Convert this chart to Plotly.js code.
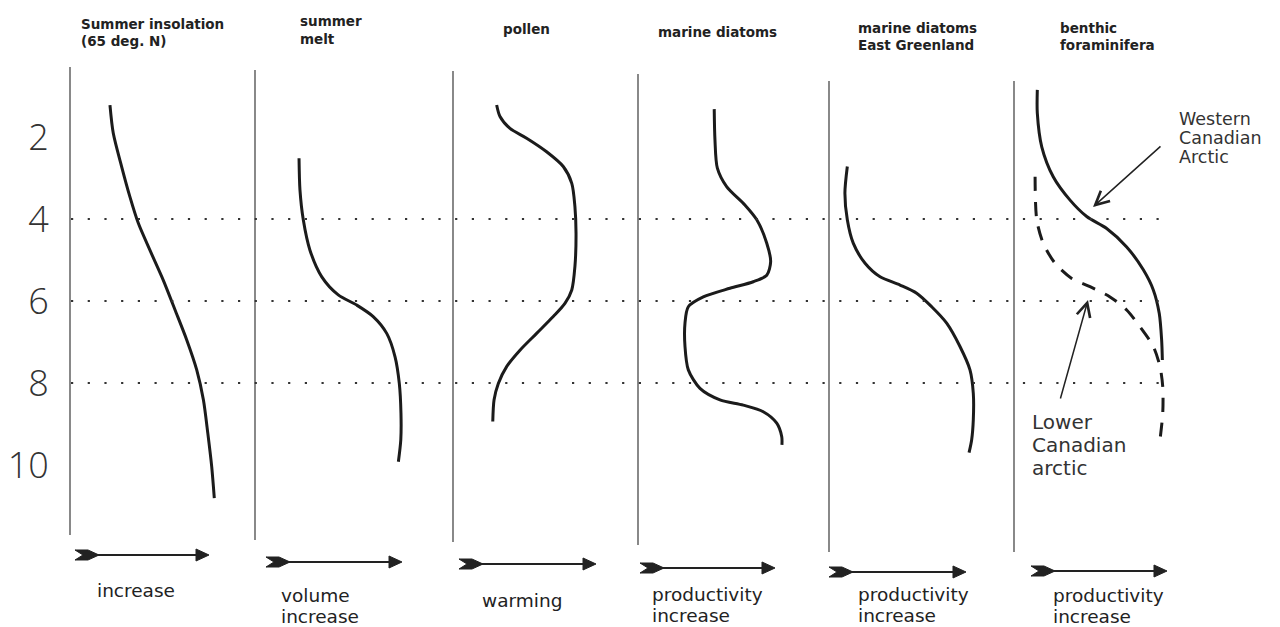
<!DOCTYPE html>
<html><head><meta charset="utf-8">
<script src="https://cdn.plot.ly/plotly-3.0.1.min.js"></script>
<style>html,body{margin:0;padding:0;background:#fff;overflow:hidden}#chart{width:1280px;height:627px}</style>
</head><body><div id="chart"></div>
<script>
// ---------- data ----------
const panelTitles = [["Summer insolation","(65 deg. N)"],["summer","melt"],["pollen"],["marine diatoms"],["marine diatoms","East Greenland"],["benthic","foraminifera"]];
const axisLabels = [["increase"],["volume","increase"],["warming"],["productivity","increase"],["productivity","increase"],["productivity","increase"]];
const ageTicks = [2,4,6,8,10];
const refAges = [4,6,8];

// relative index (0-10, increasing to the right) vs age (ka BP)
const insolationIdx = [2.16,2.34,2.79,3.24,3.69,4.32,5.04,5.68,6.31,6.85,7.21,7.45,7.66,7.80];
const insolationAge = [1.22,1.91,2.72,3.46,4.10,4.76,5.49,6.22,6.95,7.68,8.41,9.23,10.04,10.81];

const meltIdx = [2.38,2.43,2.61,2.97,3.61,4.50,5.50,6.39,7.12,7.57,7.80,7.89,7.88,7.75];
const meltAge = [2.52,3.29,4.02,4.76,5.41,5.85,6.10,6.38,6.79,7.36,8.01,8.74,9.39,9.92];

const pollenIdx = [2.36,2.54,3.08,3.98,5.06,5.96,6.42,6.59,6.65,6.59,6.42,6.05,5.42,4.52,3.62,2.90,2.45,2.22,2.15];
const pollenAge = [1.22,1.50,1.79,2.03,2.36,2.72,3.13,3.70,4.35,5.16,5.73,6.06,6.38,6.79,7.20,7.60,8.01,8.41,8.94];

const diatomIdx = [4.12,4.16,4.29,4.79,5.78,6.42,6.96,7.17,6.96,6.23,4.97,3.53,2.72,2.54,2.54,2.72,3.35,4.43,5.69,6.77,7.50,7.77,7.78];
const diatomAge = [1.32,2.07,2.76,3.21,3.66,4.02,4.59,5.04,5.37,5.53,5.69,5.90,6.14,6.54,7.11,7.68,8.13,8.41,8.54,8.70,8.98,9.31,9.51];

const greenlandIdx = [0.99,0.86,0.99,1.31,1.95,2.76,3.84,4.74,5.55,6.36,7.08,7.62,7.80,7.80,7.71,7.57];
const greenlandAge = [2.72,3.37,4.02,4.59,5.08,5.41,5.61,5.81,6.14,6.54,7.11,7.68,8.25,8.90,9.39,9.70];

const westernIdx = [1.26,1.26,1.50,2.12,3.03,3.93,5.01,6.09,6.99,7.53,7.85,7.98,8.02];
const westernAge = [0.85,1.42,2.24,2.97,3.54,3.94,4.23,4.68,5.24,5.73,6.30,6.95,7.44];

const lowerIdx = [1.14,1.23,1.58,2.22,3.12,4.11,5.19,6.09,6.81,7.53,7.89,8.04,8.04,7.89];
const lowerAge = [2.97,4.02,4.59,5.08,5.45,5.65,5.90,6.22,6.63,7.11,7.60,8.09,8.74,9.39];

// ---------- layout geometry (pixels) ----------
const W = 1280, H = 627;
const px = x => x / W;
const py = y => 1 - y / H;
const panelLeft = [70,255,453,638,829,1014];
const panelWidth = 185;
const lineTop = [67,70,71,74,81,81];
const lineBottom = [535,540,542,545,552,552];
const titlePos = [[79,24,17],[298,21,18],[501,29,18],[656,32,18],[856,27.5,17.5],[1058,27.5,17.5]];
const labelPos = [[95,590,21],[279,595,21],[480,600,21],[650,594.5,21],[856,594.5,21],[1051,595,21]];
const arrowPos = [[75,209,555],[266,402,562],[459,596,564],[640,775,568],[829,966,572],[1031,1167,571]];

const curveLine = {color:'#1b1b1b', width:3, shape:'spline', smoothing:0.8};
const series = [
  {x:insolationIdx, y:insolationAge, p:1},
  {x:meltIdx, y:meltAge, p:2},
  {x:pollenIdx, y:pollenAge, p:3},
  {x:diatomIdx, y:diatomAge, p:4},
  {x:greenlandIdx, y:greenlandAge, p:5},
  {x:westernIdx, y:westernAge, p:6},
  {x:lowerIdx, y:lowerAge, p:6, dash:'14px,11px'}
];
const traces = series.map(s => ({
  type:'scatter', mode:'lines', x:s.x, y:s.y,
  xaxis: s.p === 1 ? 'x' : 'x' + s.p, yaxis:'y',
  line: Object.assign({}, curveLine, s.dash ? {dash:s.dash} : {}),
  hoverinfo:'skip', showlegend:false
}));

const layout = {
  width:W, height:H, margin:{l:0,r:0,t:0,b:0},
  paper_bgcolor:'#fff', plot_bgcolor:'rgba(0,0,0,0)', showlegend:false,
  yaxis:{
    range:[4 + (H - 219)/41, 4 - 219/41], domain:[0,1],
    tickvals:ageTicks, ticktext:ageTicks.map(String),
    showgrid:false, zeroline:false, showline:false,
    ticks:'outside', ticklen:14, tickcolor:'rgba(0,0,0,0)',
    anchor:'free', position:px(70),
    tickfont:{family:'"Open Sans", "DejaVu Sans", sans-serif', size:36, color:'#333', weight:300}
  },
  shapes:[], annotations:[]
};
panelLeft.forEach((L,i) => {
  const key = i === 0 ? 'xaxis' : 'xaxis' + (i+1);
  layout[key] = {domain:[px(L), px(L+panelWidth)], range:[0,10], visible:false, anchor:'y', fixedrange:true};
  layout.shapes.push({type:'line', xref:'paper', yref:'paper', x0:px(L), x1:px(L), y0:py(lineTop[i]), y1:py(lineBottom[i]), line:{color:'#3a3a3a', width:1.2}});
});
refAges.forEach(a => layout.shapes.push({type:'line', xref:'paper', yref:'y', x0:px(71), x1:px(1172), y0:a, y1:a, line:{color:'#333', width:2.2, dash:'2.2px,14.5px'}}));

arrowPos.forEach(([x0,x1,y]) => {
  const P = (x,yy) => px(x).toFixed(5) + ',' + py(yy).toFixed(5);
  layout.shapes.push({type:'path', xref:'paper', yref:'paper', fillcolor:'#222', line:{color:'#222', width:1},
    path:'M'+P(x0,y-5)+' L'+P(x0+13,y-5)+' L'+P(x0+24,y)+' L'+P(x0+13,y+5)+' L'+P(x0,y+5)+' L'+P(x0+8,y)+' Z'});
  layout.shapes.push({type:'line', xref:'paper', yref:'paper', x0:px(x0+20), x1:px(x1-10), y0:py(y), y1:py(y), line:{color:'#222', width:2}});
  layout.shapes.push({type:'path', xref:'paper', yref:'paper', fillcolor:'#222', line:{color:'#222', width:1},
    path:'M'+P(x1-13,y-6)+' L'+P(x1,y)+' L'+P(x1-13,y+6)+' Z'});
});

const titleFont = {family:'"DejaVu Sans", sans-serif', size:13.5, color:'#222', weight:'bold'};
const labelFont = {family:'"DejaVu Sans", sans-serif', size:18.5, color:'#222'};
function textBlock(lines, x, y0, step, font){
  lines.forEach((t,k) => layout.annotations.push({xref:'paper', yref:'paper', x:px(x), y:py(y0 + k*step),
    xanchor:'left', yanchor:'middle', text:t, showarrow:false, font:font}));
}
panelTitles.forEach((t,i) => textBlock(t, titlePos[i][0], titlePos[i][1], titlePos[i][2], titleFont));
axisLabels.forEach((t,i) => textBlock(t, labelPos[i][0], labelPos[i][1], labelPos[i][2], labelFont));
textBlock(["Western","Canadian","Arctic"], 1177, 118.5, 19, {family:'"DejaVu Sans", sans-serif', size:17.5, color:'#333'});
textBlock(["Lower","Canadian","arctic"], 1030, 422, 23, {family:'"DejaVu Sans", sans-serif', size:20, color:'#333'});

// pointer arrows in the benthic panel
layout.annotations.push({xref:'x6', yref:'y', x:(1093-1014)/18.5, y:4+(207-219)/41, ax:69, ay:-62, axref:'pixel', ayref:'pixel',
  text:'', showarrow:true, arrowhead:5, arrowsize:1.8, arrowwidth:1.5, arrowcolor:'#222'});
layout.annotations.push({xref:'x6', yref:'y', x:(1088-1014)/18.5, y:4+(300-219)/41, ax:-28, ay:100, axref:'pixel', ayref:'pixel',
  text:'', showarrow:true, arrowhead:5, arrowsize:1.8, arrowwidth:1.5, arrowcolor:'#222'});

Plotly.newPlot('chart', traces, layout, {displayModeBar:false, staticPlot:true});
</script></body></html>
